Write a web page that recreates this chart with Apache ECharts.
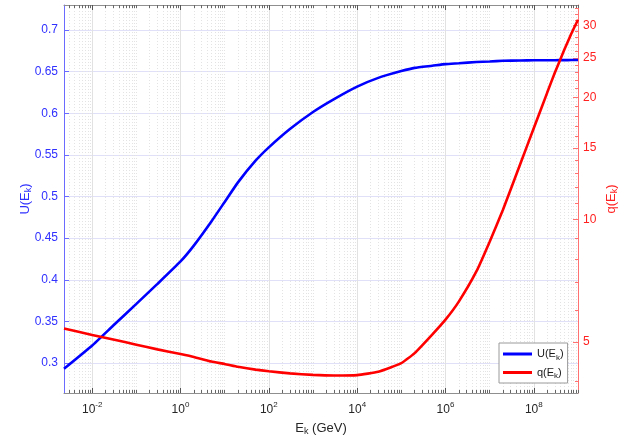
<!DOCTYPE html>
<html><head><meta charset="utf-8">
<script src="https://cdn.jsdelivr.net/npm/echarts@6/dist/echarts.min.js"></script>
<style>html,body{margin:0;padding:0;background:#fff}#c{width:635px;height:439px}</style>
</head><body><div id="c"></div>
<script>
// ---- data ----
const energy = [2.3e-3, 1e-2, 3e-2, 1e-1, 3e-1, 1, 2, 5, 10, 20, 50, 100, 300, 1e3, 3e3, 1e4, 3e4, 1e5, 2e5, 5e5, 1e6, 2e6, 5e6, 1e7, 2e7, 5e7, 1e8, 2e8, 3e8, 5e8, 7e8, 1e9];
const uValues = [0.293, 0.321, 0.345, 0.371, 0.395, 0.422, 0.441, 0.470, 0.4935, 0.517, 0.543, 0.559, 0.581, 0.6015, 0.617, 0.632, 0.6425, 0.6506, 0.6545, 0.657, 0.659, 0.660, 0.6615, 0.6622, 0.663, 0.6634, 0.6636, 0.6637, 0.6637, 0.6638, 0.6639, 0.664];
const qValues = [5.40, 5.21, 5.075, 4.93, 4.80, 4.675, 4.60, 4.48, 4.42, 4.35, 4.28, 4.24, 4.19, 4.155, 4.14, 4.15, 4.23, 4.44, 4.70, 5.22, 5.68, 6.29, 7.46, 8.83, 10.58, 13.76, 16.8, 20.5, 23.0, 26.3, 28.6, 31.0];
const xLabelTicks = [1e-2, 1, 1e2, 1e4, 1e6, 1e8];
const uTicks = [0.3, 0.35, 0.4, 0.45, 0.5, 0.55, 0.6, 0.65, 0.7];
const qTicks = [5, 10, 15, 20, 25, 30];
const xRange = [2.3e-3, 1e9];
const uRange = [0.264, 0.730];
const qRange = [3.75, 33.7];

// minor tick positions (axis decoration)
const xMinorTicks = [];
for (let e = -3; e <= 9; e++) {
  for (let m = 1; m <= 9; m++) {
    if (m === 1 && e % 2 === 0) continue;
    const v = m * Math.pow(10, e);
    if (v >= xRange[0] && v <= xRange[1]) xMinorTicks.push(v);
  }
}
const qMinorTicks = [];
for (let v = 4; v <= 33; v++) if (v % 5 !== 0) qMinorTicks.push(v);

const FONT = 'Liberation Sans, Arial, Helvetica, sans-serif';
const BLUE = '#0000ff', RED = '#ff0000';
const BLUE_AX = '#6b6bff', BLUE_TX = '#3030ff';
const RED_AX = '#ff7070', RED_TX = '#ff2020';
const GRAY_AX = '#8f8f8f';

const chart = echarts.init(document.getElementById('c'), null, {renderer: 'canvas'});
const gridRect = {left: 64, right: 57, top: 5, bottom: 46, containLabel: false, outerBoundsMode: 'none'};

const supFmt = v => '{b|10}{s|' + Math.round(Math.log10(v)) + '}';

chart.setOption({
  animation: false,
  textStyle: {fontFamily: FONT},
  grid: [Object.assign({}, gridRect), Object.assign({}, gridRect)],
  xAxis: [
    { type: 'log', gridIndex: 0, position: 'bottom', min: xRange[0], max: xRange[1],
      axisLine: {show: true, lineStyle: {color: GRAY_AX, width: 1}},
      axisTick: {show: true, inside: true, length: 5, customValues: xLabelTicks, lineStyle: {color: '#555'}},
      axisLabel: {show: true, customValues: xLabelTicks, margin: 8, formatter: supFmt, color: '#262626',
        rich: {b: {fontSize: 12, color: '#262626', fontFamily: FONT}, s: {fontSize: 8, color: '#262626', fontFamily: FONT, padding: [0, 0, 10, 0]}}},
      splitLine: {show: true, lineStyle: {color: '#e2e2e2', width: 1}},
      name: 'E{sub|k} (GeV)', nameLocation: 'middle', nameGap: 27, nameMoveOverlap: false,
      nameTextStyle: {color: '#262626', fontSize: 13, fontFamily: FONT,
        rich: {sub: {fontSize: 9, color: '#262626', fontFamily: FONT, padding: [7, 0, 0, 0]}}}
    },
    { type: 'log', gridIndex: 0, position: 'top', min: xRange[0], max: xRange[1],
      axisLine: {show: true, lineStyle: {color: GRAY_AX, width: 1}},
      axisTick: {show: true, inside: true, length: 5, customValues: xLabelTicks, lineStyle: {color: '#555'}},
      axisLabel: {show: false}, splitLine: {show: false}
    },
    { type: 'log', gridIndex: 1, position: 'bottom', min: xRange[0], max: xRange[1],
      axisLine: {show: false},
      axisTick: {show: true, inside: true, length: 3, customValues: xMinorTicks, lineStyle: {color: '#666'}},
      axisLabel: {show: false},
      splitLine: {show: true, lineStyle: {color: '#e3e3e3', width: 1, type: [1, 2]}}
    },
    { type: 'log', gridIndex: 1, position: 'top', min: xRange[0], max: xRange[1],
      axisLine: {show: false},
      axisTick: {show: true, inside: true, length: 3, customValues: xMinorTicks, lineStyle: {color: '#666'}},
      axisLabel: {show: false}, splitLine: {show: false}
    }
  ],
  yAxis: [
    { type: 'value', gridIndex: 0, position: 'left', min: uRange[0], max: uRange[1],
      axisLine: {show: true, lineStyle: {color: BLUE_AX, width: 1}},
      axisTick: {show: true, inside: true, length: 5, customValues: uTicks, lineStyle: {color: BLUE_AX}},
      axisLabel: {show: true, customValues: uTicks, margin: 6, color: BLUE_TX, fontSize: 12, fontFamily: FONT},
      splitLine: {show: true, lineStyle: {color: '#e0e0f8', width: 1}},
      name: 'U(E{sub|k})', nameLocation: 'middle', nameGap: 31, nameRotate: 90, nameMoveOverlap: false,
      nameTextStyle: {color: BLUE_TX, fontSize: 13, fontFamily: FONT,
        rich: {sub: {fontSize: 9, color: BLUE_TX, fontFamily: FONT, padding: [7, 0, 0, 0]}}}
    },
    { type: 'log', gridIndex: 0, position: 'right', min: qRange[0], max: qRange[1],
      axisLine: {show: true, lineStyle: {color: RED_AX, width: 1}},
      axisTick: {show: true, inside: true, length: 5, customValues: qTicks, lineStyle: {color: RED_AX}},
      axisLabel: {show: true, customValues: qTicks, margin: 5, color: RED_TX, fontSize: 12, fontFamily: FONT},
      splitLine: {show: false},
      name: 'q(E{sub|k})', nameLocation: 'middle', nameGap: 25, nameRotate: 90, nameMoveOverlap: false,
      nameTextStyle: {color: RED_TX, fontSize: 13, fontFamily: FONT,
        rich: {sub: {fontSize: 9, color: RED_TX, fontFamily: FONT, padding: [7, 0, 0, 0]}}}
    },
    { type: 'log', gridIndex: 1, position: 'right', min: qRange[0], max: qRange[1],
      axisLine: {show: false},
      axisTick: {show: true, inside: true, length: 3, customValues: qMinorTicks, lineStyle: {color: RED_AX}},
      axisLabel: {show: false}, splitLine: {show: false}
    }
  ],
  legend: {
    orient: 'vertical', left: 499, top: 343,
    backgroundColor: '#fff', borderColor: '#9a9a9a', borderWidth: 1, borderRadius: 0,
    padding: [4, 4, 3, 4], itemGap: 4, itemWidth: 29, itemHeight: 3, icon: 'rect',
    textStyle: {fontSize: 11, color: '#1a1a1a', fontFamily: FONT, lineHeight: 14,
      rich: {sub: {fontSize: 8, color: '#1a1a1a', fontFamily: FONT, padding: [7, 0, 0, 0]}}},
    formatter: n => n.replace('_k', '{sub|k}'),
    data: ['U(E_k)', 'q(E_k)']
  },
  series: [
    { name: 'U(E_k)', type: 'line', xAxisIndex: 0, yAxisIndex: 0, showSymbol: false, symbol: 'none', smooth: 0.15,
      lineStyle: {color: BLUE, width: 2.6}, itemStyle: {color: BLUE},
      data: energy.map((e, i) => [e, uValues[i]]) },
    { name: 'q(E_k)', type: 'line', xAxisIndex: 0, yAxisIndex: 1, showSymbol: false, symbol: 'none', smooth: 0.15,
      lineStyle: {color: RED, width: 2.6}, itemStyle: {color: RED},
      data: energy.map((e, i) => [e, qValues[i]]) }
  ]
});
</script></body></html>
